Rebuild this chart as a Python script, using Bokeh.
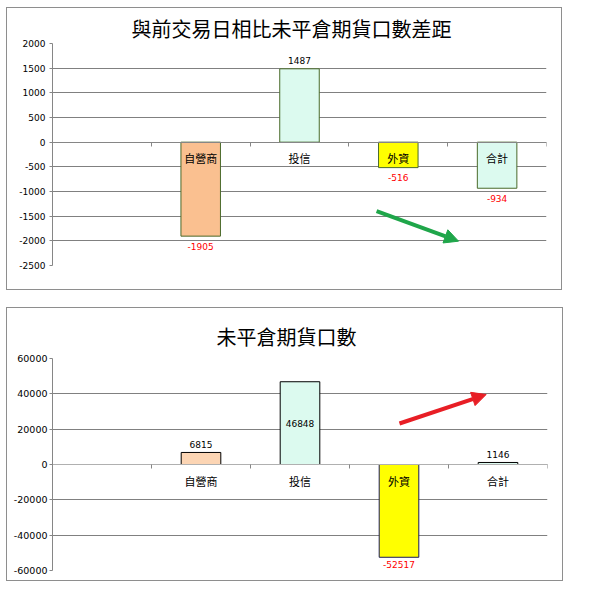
from bokeh.plotting import figure
from bokeh.models import (Range1d, LinearAxis, FixedTicker, Arrow, NormalHead,
                          ColumnDataSource, CustomJSTickFormatter, Spacer)
from bokeh.layouts import column
from bokeh.embed import file_html
from bokeh.resources import INLINE
from bokeh.core.properties import value

# ---- data ----
factors = [" ", "自營商", "投信", "外資", "合計"]
categories = ["自營商", "投信", "外資", "合計"]
diff_values = [-1905, 1487, -516, -934]
oi_values = [6815, 46848, -52517, 1146]
diff_ticks = [-2500, -2000, -1500, -1000, -500, 0, 500, 1000, 1500, 2000]
oi_ticks = [-60000, -40000, -20000, 0, 20000, 40000, 60000]
title1 = "與前交易日相比未平倉期貨口數差距"
title2 = "未平倉期貨口數"

NUM_FONT = "DejaVu Sans"
CJK_FONT = "Noto Sans CJK TC"

# category slot centres on a numeric axis (slot i spans [i, i+1])
cat_x = [factors.index(c) + 0.5 for c in categories]


def make_chart(title, values, ticks, ymin, ymax, fills, lines, width, height,
               mb, title_offset, title_standoff, label_below, label_mid_idx=None,
               axis_color="#868686", tick_font="9px", tick_standoff=4):
    p = figure(x_range=Range1d(0, len(factors)), y_range=Range1d(ymin, ymax),
               width=width, height=height, output_backend="svg",
               toolbar_location=None, x_axis_location=None,
               min_border_left=mb[0], min_border_right=mb[1],
               min_border_top=mb[2], min_border_bottom=mb[3])
    p.outline_line_color = None
    p.background_fill_color = "white"
    p.border_fill_color = "white"
    p.xgrid.visible = False
    p.ygrid.ticker = FixedTicker(ticks=ticks)
    p.ygrid.grid_line_color = "#808080"

    ya = p.yaxis[0]
    ya.ticker = FixedTicker(ticks=ticks)
    ya.major_label_overrides = {t: str(t) for t in ticks}
    ya.axis_line_color = "#868686"
    ya.major_tick_line_color = "#868686"
    ya.major_tick_out = 3
    ya.major_tick_in = 0
    ya.minor_tick_line_color = None
    ya.major_label_text_font = NUM_FONT
    ya.major_label_text_font_size = tick_font
    ya.major_label_text_color = "black"
    ya.major_label_standoff = tick_standoff

    xa = LinearAxis(fixed_location=0,
                    ticker=FixedTicker(ticks=list(range(1, len(factors) + 1))),
                    formatter=CustomJSTickFormatter(code="return ''"))
    xa.axis_line_color = axis_color
    xa.axis_line_width = 1
    xa.major_tick_line_color = "#868686"
    xa.major_tick_out = 4
    xa.major_tick_in = 0
    xa.minor_tick_line_color = None
    xa.major_label_text_font_size = "1px"
    xa.major_label_standoff = 0
    p.add_layout(xa, "below")

    p.title.text = title
    p.title.align = "left"
    p.title.text_font = CJK_FONT
    p.title.text_font_size = "20px"
    p.title.text_font_style = "normal"
    p.title.text_color = "black"
    p.title.offset = title_offset
    p.title.standoff = title_standoff

    src = ColumnDataSource(dict(x=cat_x, top=values, fill=fills, line=lines))
    p.vbar(x="x", top="top", bottom=0, width=0.4, source=src,
           fill_color="fill", line_color="line", line_width=1)

    # value labels
    ly, lt, lc, lo = [], [], [], []
    for i, v in enumerate(values):
        lt.append(str(v))
        if label_mid_idx is not None and i == label_mid_idx:
            ly.append(v / 2)
            lo.append(0)
        elif v >= 0:
            ly.append(v)
            lo.append(-8)
        else:
            ly.append(v)
            lo.append(label_below)
        lc.append("black" if v >= 0 else "red")
    lsrc = ColumnDataSource(dict(x=cat_x, y=ly, t=lt, c=lc, o=lo))
    p.text(x="x", y="y", text="t", y_offset="o", source=lsrc, text_color="c",
           text_font=value(NUM_FONT), text_font_size="9px",
           text_align="center", text_baseline="middle")

    # category labels at the zero axis
    p.text(x=cat_x, y=[0] * len(categories), text=categories, y_offset=16,
           text_font=value(CJK_FONT), text_font_size="11px", text_color="black",
           text_align="center", text_baseline="middle")
    p.styles = {"border": "1px solid #8e8e8e"}
    return p


p1 = make_chart(title1, diff_values, diff_ticks, -2500, 2000,
                ["#FAC090", "#DCFAEF", "#FFFF00", "#DCFAEF"],
                ["#4A6A2A"] * 4, 556, 283, (39, 17, 35, 26), 79, 2, 10)
p1.add_layout(Arrow(end=NormalHead(size=14, fill_color="#1FA64A", line_color="#1FA64A"),
                    x_start=3.28, y_start=-1399, x_end=4.11, y_end=-2007,
                    line_color="#1FA64A", line_width=4))

p2 = make_chart(title2, oi_values, oi_ticks, -60000, 60000,
                ["#FCD5B4", "#DCFAEF", "#FFFF00", "#DCFAEF"],
                ["#000000", "#000000", "#1A1A5A", "#000000"], 557, 274,
                (45, 17, 50, 12), 164, 16, 7, label_mid_idx=1, axis_color="#B0B0B0",
                tick_font="9.5px", tick_standoff=2)
p2.add_layout(Arrow(end=NormalHead(size=14, fill_color="#E81E25", line_color="#E81E25"),
                    x_start=3.505, y_start=23200, x_end=4.38, y_end=39600,
                    line_color="#E81E25", line_width=4))

layout = column(p1, Spacer(height=17), p2,
                styles={"padding-left": "6px", "padding-top": "7px"})
open("out.html", "w").write(file_html(layout, INLINE))
